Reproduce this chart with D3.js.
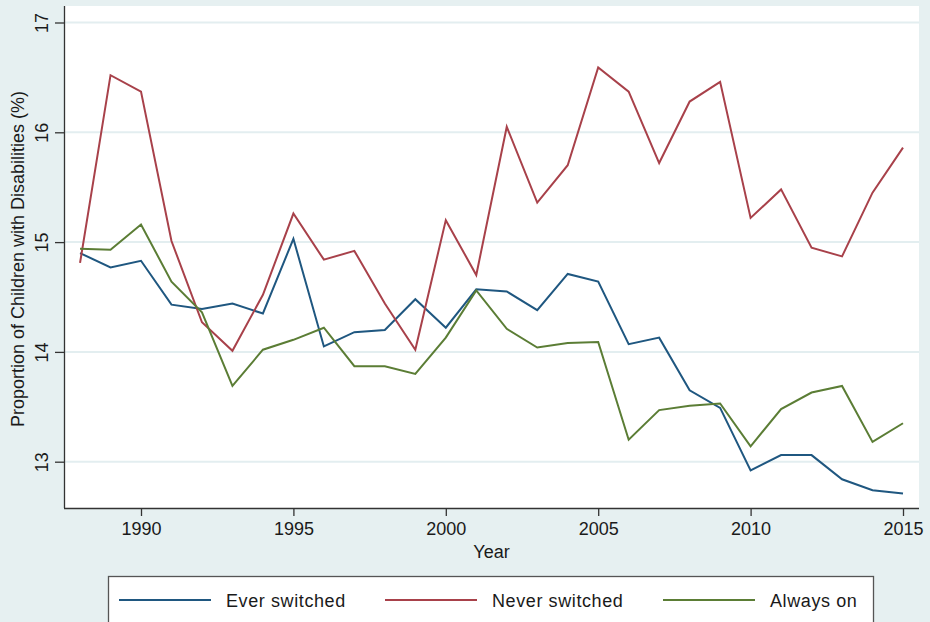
<!DOCTYPE html>
<html>
<head>
<meta charset="utf-8">
<script src="https://cdn.jsdelivr.net/npm/d3@7"></script>
<style>
  html, body { margin: 0; padding: 0; background: #e6f0f1; }
  svg { display: block; }
  text { font-family: "Liberation Sans", Arial, Helvetica, sans-serif; fill: #1a1a1a; }
</style>
</head>
<body>
<svg id="chart" width="930" height="622"></svg>
<script>
const years = d3.range(1988, 2016);
const everSwitched = [14.90, 14.77, 14.83, 14.43, 14.39, 14.44, 14.35, 15.03, 14.05, 14.18, 14.20, 14.48, 14.22, 14.57,
                      14.55, 14.38, 14.71, 14.64, 14.07, 14.13, 13.65, 13.49, 12.92, 13.06, 13.06, 12.84, 12.74, 12.71];
const neverSwitched = [14.81, 16.52, 16.37, 15.01, 14.27, 14.01, 14.52, 15.26, 14.84, 14.92, 14.44, 14.02, 15.20, 14.70,
                       16.05, 15.36, 15.70, 16.59, 16.37, 15.72, 16.28, 16.46, 15.22, 15.48, 14.95, 14.87, 15.45, 15.86];
const alwaysOn = [14.94, 14.93, 15.16, 14.64, 14.36, 13.69, 14.02, 14.11, 14.22, 13.87, 13.87, 13.80, 14.13, 14.56,
                  14.21, 14.04, 14.08, 14.09, 13.20, 13.47, 13.51, 13.53, 13.14, 13.48, 13.63, 13.69, 13.18, 13.35];
const seriesNames = ["Ever switched", "Never switched", "Always on"];
const seriesColors = ["#1f5780", "#a8414a", "#5b7d35"];
const xTicks = [1990, 1995, 2000, 2005, 2010, 2015];
const yTicks = [13, 14, 15, 16, 17];

const series = [everSwitched, neverSwitched, alwaysOn];

const svg = d3.select("#chart");
const plot = { left: 64, right: 919, top: 6, bottom: 508 };

const x = d3.scaleLinear().domain([1990, 2015]).range([141, 903]);
const y = d3.scaleLinear().domain([13, 16]).range([461.7, 132.3]);

// plot region
svg.append("rect")
  .attr("x", plot.left).attr("y", plot.top)
  .attr("width", plot.right - plot.left).attr("height", plot.bottom - plot.top)
  .attr("fill", "#ffffff");

// gridlines
svg.append("g").selectAll("line").data(yTicks).join("line")
  .attr("x1", plot.left).attr("x2", plot.right)
  .attr("y1", d => y(d)).attr("y2", d => y(d))
  .attr("stroke", "#e3eef0").attr("stroke-width", 2);

// lines
const line = d3.line().x((d, i) => x(years[i])).y(d => y(d));
svg.append("g").selectAll("path").data(series).join("path")
  .attr("d", d => line(d))
  .attr("fill", "none")
  .attr("stroke", (d, i) => seriesColors[i])
  .attr("stroke-width", 2)
  .attr("stroke-linejoin", "miter");

// x axis
const xAxis = d3.axisBottom(x).tickValues(xTicks).tickFormat(d3.format("d")).tickSize(8).tickPadding(6);
const gx = svg.append("g").attr("transform", `translate(0,${plot.bottom})`).call(xAxis);
gx.select(".domain").attr("d", `M${plot.left},0.5H${plot.right}`).attr("stroke", "#333").attr("stroke-width", 1.3);
gx.selectAll(".tick line").attr("stroke", "#333").attr("stroke-width", 1.3);
gx.selectAll(".tick text").attr("font-size", 18).attr("fill", "#1a1a1a")
  .attr("font-family", "'Liberation Sans', Arial, sans-serif");

// y axis
const yAxis = d3.axisLeft(y).tickValues(yTicks).tickFormat(d3.format("d")).tickSize(9).tickPadding(0);
const gy = svg.append("g").attr("transform", `translate(${plot.left},0)`).call(yAxis);
gy.select(".domain").attr("d", `M0.5,${plot.top}V${plot.bottom}`).attr("stroke", "#333").attr("stroke-width", 1.3);
gy.selectAll(".tick line").attr("stroke", "#333").attr("stroke-width", 1.3);
gy.selectAll(".tick text")
  .attr("font-size", 18).attr("fill", "#1a1a1a")
  .attr("font-family", "'Liberation Sans', Arial, sans-serif")
  .attr("x", null).attr("dy", null)
  .attr("text-anchor", "middle")
  .attr("transform", "translate(-18,0) rotate(-90)")
  .attr("y", 0).attr("dy", "0.1em");

// axis titles
svg.append("text")
  .attr("x", (plot.left + plot.right) / 2).attr("y", 558)
  .attr("text-anchor", "middle").attr("font-size", 18)
  .text("Year");
svg.append("text")
  .attr("transform", `translate(24,${(plot.top + plot.bottom) / 2 + 2}) rotate(-90)`)
  .attr("text-anchor", "middle").attr("font-size", 18)
  .text("Proportion of Children with Disabilities (%)");

// legend
const legend = svg.append("g");
legend.append("rect")
  .attr("x", 108.5).attr("y", 576.5).attr("width", 765).attr("height", 60)
  .attr("fill", "#ffffff").attr("stroke", "#555").attr("stroke-width", 1.3);
const legendX = [119, 385, 663];
const items = legend.selectAll("g.item").data(seriesNames).join("g")
  .attr("class", "item")
  .attr("transform", (d, i) => `translate(${legendX[i]},600)`);
items.append("line")
  .attr("x1", 0).attr("x2", 92).attr("y1", 0).attr("y2", 0)
  .attr("stroke", (d, i) => seriesColors[i]).attr("stroke-width", 2);
items.append("text")
  .attr("x", 107).attr("y", 7).attr("font-size", 18)
  .attr("letter-spacing", "0.6px")
  .text(d => d);
</script>
</body>
</html>
